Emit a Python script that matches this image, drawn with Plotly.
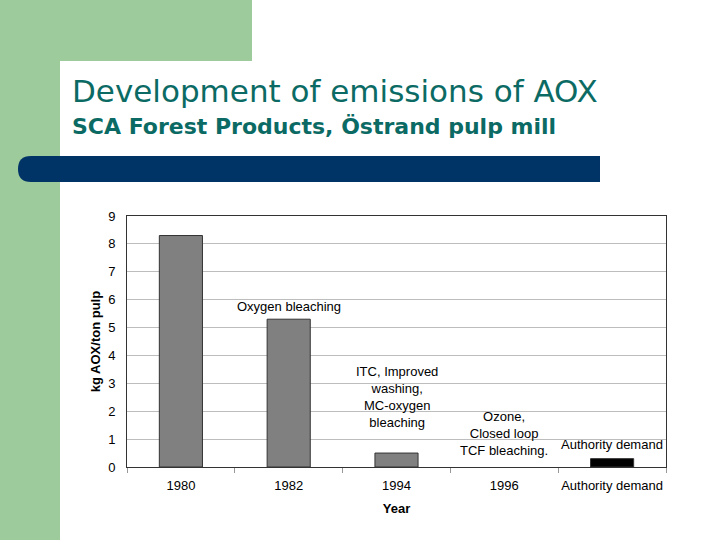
import plotly.graph_objects as go

W, H = 720, 540

categories = ["1980", "1982", "1994", "1996", "Authority demand"]
aox_values = [8.3, 5.3, 0.5, 0.0, 0.3]
bar_colors = ["#808080", "#808080", "#808080", "#808080", "#000000"]

notes = [
    "Oxygen bleaching",
    "ITC, Improved<br>washing,<br>MC-oxygen<br>bleaching",
    "Ozone,<br>Closed loop<br>TCF bleaching.",
    "Authority demand",
]
note_cats = ["1982", "1994", "1996", "Authority demand"]
note_y = [5.77, 2.51, 1.2, 0.81]

y_ticks = list(range(0, 10))

GREEN = "#9ecb9c"
TEAL = "#0b6b64"
NAVY = "#003366"
SANS = "Liberation Sans, Arial"
WIDE = "DejaVu Sans"


def px(x, y):
    # pixel position on the slide -> paper coordinates
    return x / W, 1 - y / H


def path(points):
    out = ""
    for cmd, pts in points:
        coords = " ".join(f"{px(x, y)[0]:.5f},{px(x, y)[1]:.5f}" for x, y in pts)
        out += f"{cmd} {coords} "
    return out + "Z"


fig = go.Figure()
fig.add_bar(
    x=categories, y=aox_values,
    marker=dict(color=bar_colors,
                line=dict(color="#333333", width=[0 if v == 0 else 1 for v in aox_values])),
    showlegend=False,
)

for txt, cat, yv in zip(notes, note_cats, note_y):
    fig.add_annotation(
        x=categories.index(cat), y=yv, xref="x", yref="y", text=txt, showarrow=False,
        font=dict(family=SANS, size=13, color="#000000"),
        align="center", yanchor="middle",
    )

# slide decoration
shapes = [
    dict(type="rect", xref="paper", yref="paper", layer="below",
         x0=0, x1=252 / W, y0=1 - 61 / H, y1=1, fillcolor=GREEN, line=dict(width=0)),
    dict(type="rect", xref="paper", yref="paper", layer="below",
         x0=0, x1=60 / W, y0=0, y1=1, fillcolor=GREEN, line=dict(width=0)),
    dict(type="path", xref="paper", yref="paper", layer="below",
         path=path([("M", [(60, 540)]), ("L", [(60, 78)]), ("Q", [(60, 61), (77, 61)]),
                    ("L", [(252, 61)]), ("L", [(252, 540)])]),
         fillcolor="white", line=dict(width=0)),
    dict(type="path", xref="paper", yref="paper", layer="below",
         path=path([("M", [(600, 156)]), ("L", [(31, 156)]), ("Q", [(18, 156), (18, 169)]),
                    ("Q", [(18, 182), (31, 182)]), ("L", [(600, 182)])]),
         fillcolor=NAVY, line=dict(width=0)),
]

fig.add_annotation(
    x=70 / W, y=1 - 91 / H, xref="paper", yref="paper", xanchor="left", yanchor="middle",
    text="Development of emissions of AOX", showarrow=False,
    font=dict(family=WIDE, size=31, color=TEAL),
)
fig.add_annotation(
    x=70 / W, y=1 - 127 / H, xref="paper", yref="paper", xanchor="left", yanchor="middle",
    text="<b>SCA Forest Products, Östrand pulp mill</b>", showarrow=False,
    font=dict(family=WIDE, size=22, color=TEAL),
)

fig.update_layout(
    width=W, height=H,
    margin=dict(l=0, r=0, t=0, b=0, autoexpand=False),
    paper_bgcolor="white", plot_bgcolor="white",
    bargap=0.6,
    shapes=shapes,
    font=dict(family=SANS, size=13, color="#000000"),
    xaxis=dict(
        domain=[127 / W, 666 / W], automargin=False,
        type="category", categoryorder="array", categoryarray=categories,
        range=[-0.5, len(categories) - 0.5],
        tickson="boundaries", ticks="outside", ticklen=5, tickangle=0,
        tickcolor="#999999", ticklabelstandoff=6,
        showline=True, linecolor="#333333", mirror=True, showgrid=False,
        title=dict(text="<b>Year</b>", standoff=12, font=dict(size=13)),
    ),
    yaxis=dict(
        domain=[1 - 467 / H, 1 - 216 / H], automargin=False,
        range=[0, 9], tickvals=y_ticks, ticks="", ticklabelstandoff=8,
        showline=True, linecolor="#333333", mirror=True,
        showgrid=True, gridcolor="#bdbdbd", gridwidth=1, zeroline=False,
        title=dict(text="<b>kg AOX/ton pulp</b>", standoff=4, font=dict(size=13)),
    ),
)

# drop the page's default body margin so the slide sits at the window corner
fig.write_html("out.html", config={"displayModeBar": False},
               post_script="document.body.style.margin='0';")
